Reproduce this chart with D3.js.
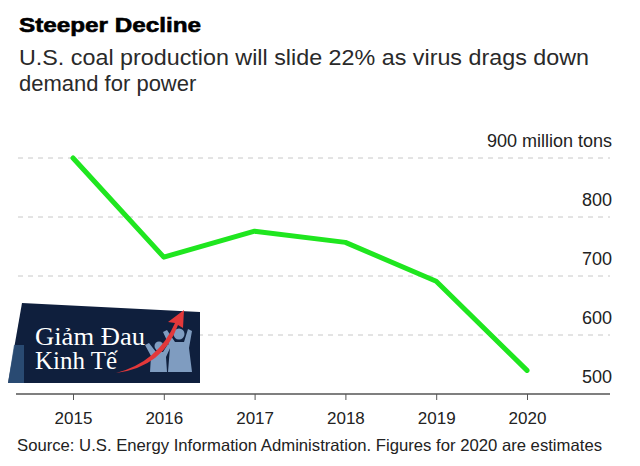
<!DOCTYPE html>
<html><head><meta charset="utf-8">
<script src="https://cdn.jsdelivr.net/npm/d3@7"></script>
<style>
html,body{margin:0;padding:0;background:#fff;}
svg{display:block;font-family:"Liberation Sans",Arial,sans-serif;}
</style></head>
<body>
<svg id="c" width="640" height="466"></svg>
<script>
const years = [2015, 2016, 2017, 2018, 2019, 2020];
const production = [900, 732, 776, 757, 691, 540];
const yTicks = [500, 600, 700, 800, 900];
const yTickLabels = ["500", "600", "700", "800", "900 million tons"];
const title = "Steeper Decline";
const subtitle = ["U.S. coal production will slide 22% as virus drags down", "demand for power"];
const source = "Source: U.S. Energy Information Administration. Figures for 2020 are estimates";

const svg = d3.select("#c");
const x = d3.scaleLinear().domain([2015, 2020]).range([73, 527]);
const y = d3.scaleLinear().domain([500, 900]).range([394, 158]);

// title
svg.append("text").attr("x", 19).attr("y", 32).text(title)
  .attr("font-size", 21).attr("font-weight", "bold").attr("fill", "#000")
  .attr("stroke", "#000").attr("stroke-width", 0.6)
  .attr("textLength", 182).attr("lengthAdjust", "spacingAndGlyphs");
const subW = [570, null];
subtitle.forEach((s, i) => {
  const t = svg.append("text").attr("x", 19).attr("y", 65 + i * 26).text(s)
    .attr("font-size", 22).attr("fill", "#2a2a2a");
  if (subW[i]) t.attr("textLength", subW[i]).attr("lengthAdjust", "spacingAndGlyphs");
});

// gridlines
svg.append("g").selectAll("line").data(yTicks.filter(d => d > 500)).join("line")
  .attr("x1", 18).attr("x2", 610)
  .attr("y1", d => y(d)).attr("y2", d => y(d))
  .attr("stroke", "#c8c8c8").attr("stroke-width", 1).attr("stroke-dasharray", "5,5");

// y labels
svg.append("g").selectAll("text").data(yTicks).join("text")
  .attr("x", 612).attr("y", d => y(d) - 11)
  .attr("text-anchor", "end").attr("font-size", 18).attr("fill", "#222")
  .text((d, i) => yTickLabels[i]);

// x axis
const xAxis = d3.axisBottom(x).tickValues(years).tickFormat(d3.format("d")).tickSize(6).tickPadding(12);
const gx = svg.append("g").attr("transform", "translate(0,394)").call(xAxis);
gx.select(".domain").remove();
gx.append("line").attr("x1", 16).attr("x2", 610).attr("y1", 0).attr("y2", 0).attr("stroke", "#555").attr("stroke-width", 1.3);
gx.selectAll(".tick line").attr("stroke", "#555");
gx.selectAll(".tick text").attr("font-size", 17).attr("fill", "#222").attr("font-family", "Liberation Sans, Arial, sans-serif");

// line
const line = d3.line().x((d, i) => x(years[i])).y(d => y(d));
svg.append("path").datum(production).attr("d", line)
  .attr("fill", "none").attr("stroke", "#1fe61f").attr("stroke-width", 5)
  .attr("stroke-linejoin", "round").attr("stroke-linecap", "round");

// source
svg.append("text").attr("x", 17).attr("y", 451).text(source)
  .attr("font-size", 16.5).attr("fill", "#222")
  .attr("textLength", 585).attr("lengthAdjust", "spacingAndGlyphs");

// watermark logo
const logo = svg.append("g");
logo.append("path").attr("d", "M22,303 L200,312 L200,383 L8,383 Z").attr("fill", "#0f1f3d");
logo.append("path").attr("d", "M14,345 L8,383 L24,383 L24,345 Z").attr("fill", "#2f5580").attr("opacity", 0.8);
// people figures
const fig = "#7f9cc0";
logo.append("path").attr("d", "M150,372 L151,356 L145,345 L149,343 L156,352 L163,352 L168,344 L171,346 L166,357 L167,372 Z").attr("fill", fig);
logo.append("circle").attr("cx", 159).attr("cy", 346).attr("r", 4.5).attr("fill", fig);
logo.append("path").attr("d", "M168,372 L170,347 L163,332 L167,330 L175,342 L184,342 L188,329 L192,331 L189,348 L192,372 Z").attr("fill", fig);
logo.append("circle").attr("cx", 179).attr("cy", 334).attr("r", 5.5).attr("fill", fig);
// red arrow swoosh
logo.append("path").attr("d", "M116,373 Q158,362 175,323 L168,322 L184,310 L183,328 L178,325 Q163,367 116,373 Z").attr("fill", "#e2383a");
logo.append("text").attr("x", 35).attr("y", 345).text("Giảm Đau")
  .attr("font-family", "Liberation Serif, DejaVu Serif, serif").attr("font-size", 25).attr("fill", "#fff")
  .attr("textLength", 110).attr("lengthAdjust", "spacingAndGlyphs");
logo.append("text").attr("x", 35).attr("y", 369).text("Kinh Tế")
  .attr("font-family", "Liberation Serif, DejaVu Serif, serif").attr("font-size", 25).attr("fill", "#fff")
  .attr("textLength", 82).attr("lengthAdjust", "spacingAndGlyphs");
</script>
</body></html>
